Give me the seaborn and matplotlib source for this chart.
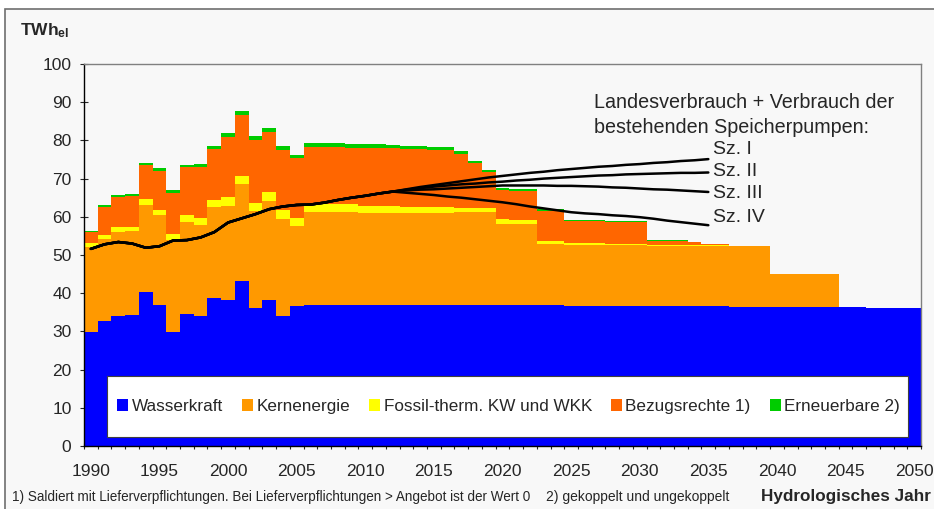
import numpy as np
import pandas as pd
import matplotlib
matplotlib.use('Agg')
import matplotlib.pyplot as plt
from matplotlib.patches import Patch, Rectangle
from matplotlib.ticker import FixedLocator, MultipleLocator
import seaborn as sns

sns.set_style('ticks')
plt.rcParams['font.family'] = ['Liberation Sans', 'DejaVu Sans']
plt.rcParams['mathtext.fontset'] = 'custom'
plt.rcParams['mathtext.bf'] = 'Liberation Sans:bold'
plt.rcParams['mathtext.rm'] = 'Liberation Sans'

# ── data (TWh_el per hydrological year) ─────────────────
years = list(range(1990, 2051))

wasserkraft = [29.9, 32.7, 34.1, 34.3, 40.3, 36.9, 29.9, 34.6, 34.1, 38.7,
               38.3, 43.3, 36.2, 38.3, 34.1, 36.6,
               36.9, 36.9, 36.9, 36.9, 36.9, 36.9, 36.9, 36.9, 36.9, 36.9,
               36.9, 36.9, 36.9, 36.9, 36.9, 36.9, 36.9, 36.9, 36.9,
               36.7, 36.7, 36.7, 36.7, 36.7, 36.7, 36.7, 36.7, 36.7, 36.7, 36.7, 36.7,
               36.4, 36.4, 36.4, 36.4, 36.4, 36.4, 36.4, 36.4, 36.4, 36.4,
               36.1, 36.1, 36.1, 36.1]
kernenergie = [22.3, 21.5, 22.0, 22.0, 22.8, 23.6, 24.0, 24.1, 23.7, 23.9,
               24.6, 25.3, 25.3, 25.8, 25.3, 21.0,
               24.4, 24.4, 24.4, 24.4, 24.2, 24.2, 24.1, 24.1, 24.1, 24.1,
               24.1, 24.3, 24.3, 24.3, 21.2, 21.2, 21.2, 16.0, 16.0,
               15.9, 15.9, 15.9, 15.8, 15.8, 15.8, 15.7, 15.7, 15.7, 15.7, 15.7, 15.7,
               16.0, 16.0, 16.0, 8.6, 8.6, 8.6, 8.6, 8.6, 0, 0,
               0, 0, 0, 0]
fossil = [0.9, 1.0, 1.2, 1.0, 1.6, 1.3, 1.7, 1.8, 1.9, 1.8,
          2.4, 2.1, 2.1, 2.4, 2.4, 2.0,
          2.1, 2.1, 2.1, 2.0, 1.8, 1.8, 1.8, 1.6, 1.6, 1.6,
          1.6, 1.1, 1.1, 1.1, 1.4, 1.1, 1.1, 0.8, 0.8,
          0.5, 0.5, 0.5, 0.5, 0.5, 0.5, 0.3, 0.3, 0.3, 0.2, 0.1, 0.1,
          0, 0, 0, 0, 0, 0, 0, 0, 0, 0,
          0, 0, 0, 0]
bezugsrechte = [2.8, 7.4, 7.9, 8.2, 8.9, 10.3, 10.7, 12.5, 13.4, 13.3,
                15.6, 16.0, 16.5, 15.8, 15.8, 15.7,
                14.8, 14.8, 14.8, 14.8, 15.1, 15.1, 15.1, 15.1, 15.1, 14.8,
                14.8, 14.1, 11.7, 9.3, 7.6, 7.6, 7.6, 7.8, 7.8,
                5.8, 5.8, 5.8, 5.7, 5.7, 5.6, 1.0, 1.0, 1.0, 0.8, 0.4, 0.4,
                0, 0, 0, 0, 0, 0, 0, 0, 0, 0,
                0, 0, 0, 0]
erneuerbare = [0.4, 0.5, 0.5, 0.5, 0.5, 0.7, 0.7, 0.6, 0.7, 0.8,
               1.0, 1.0, 1.0, 1.0, 1.0, 1.0,
               1.0, 1.0, 1.0, 1.0, 1.0, 1.0, 0.9, 0.8, 0.8, 0.8,
               0.8, 0.7, 0.6, 0.6, 0.5, 0.5, 0.5, 0.5, 0.5,
               0.3, 0.3, 0.3, 0.3, 0.3, 0.3, 0.2, 0.2, 0.2, 0.1, 0, 0,
               0, 0, 0, 0, 0, 0, 0, 0, 0, 0,
               0, 0, 0, 0]

# consumption line: common history 1990-2012, then four scenarios 2013-2035
verbrauch = [51.6, 52.8, 53.4, 53.0, 51.9, 52.3, 53.8, 53.9, 54.6, 56.0,
             58.5, 59.6, 60.7, 62.0, 62.7, 63.1, 63.2, 63.7, 64.4, 65.0,
             65.5, 66.1, 66.6]
sz_1 = [67.2, 67.8, 68.3, 68.8, 69.3, 69.8, 70.3, 70.7, 71.1, 71.5, 71.8, 72.2,
        72.5, 72.8, 73.1, 73.3, 73.6, 73.8, 74.1, 74.3, 74.6, 74.8, 75.1]
sz_2 = [67.1, 67.5, 67.9, 68.2, 68.5, 68.7, 69.0, 69.2, 69.5, 69.7, 70.0, 70.2,
        70.4, 70.6, 70.8, 70.9, 71.1, 71.2, 71.3, 71.4, 71.5, 71.5, 71.6]
sz_3 = [66.9, 67.1, 67.2, 67.4, 67.6, 67.8, 68.0, 68.2, 68.2, 68.2, 68.2, 68.1,
        68.1, 68.0, 67.9, 67.7, 67.6, 67.4, 67.2, 67.1, 66.9, 66.7, 66.5]
sz_4 = [66.3, 66.0, 65.7, 65.3, 65.0, 64.6, 64.2, 63.8, 63.3, 62.7, 62.2, 61.7,
        61.2, 60.9, 60.7, 60.4, 60.2, 59.9, 59.5, 59.0, 58.6, 58.2, 57.8]
sz_names = ['Sz. I', 'Sz. II', 'Sz. III', 'Sz. IV']

series = ['Wasserkraft', 'Kernenergie', 'Fossil-therm. KW und WKK',
          'Bezugsrechte 1)', 'Erneuerbare 2)']
colors = ['#0000ff', '#ff9900', '#ffff00', '#ff6600', '#00cc00']

df = pd.DataFrame({'Jahr': years,
                   series[0]: wasserkraft, series[1]: kernenergie,
                   series[2]: fossil, series[3]: bezugsrechte,
                   series[4]: erneuerbare})
cum = df[series].cumsum(axis=1)

# ── figure ──────────────────────────────────────────────
W_PX, H_PX = 934, 509
fig = plt.figure(figsize=(W_PX / 100, H_PX / 100), dpi=100, facecolor='white')
fig.patches.append(Rectangle((5 / W_PX, -0.05), 1.1, 1 - 9 / H_PX + 0.05,
                             transform=fig.transFigure, facecolor='#f8f8f8',
                             edgecolor='#6e6e6e', linewidth=1.2, zorder=-5))
ax = fig.add_axes([84 / W_PX, 1 - 446 / H_PX, 837 / W_PX, 382 / H_PX])
ax.set_facecolor('#f8f8f8')

# stacked bars: draw cumulative totals from the top layer down
for name, col in reversed(list(zip(series, colors))):
    sns.barplot(x=df['Jahr'], y=cum[name], color=col, saturation=1,
                width=1.0, linewidth=0, errorbar=None, ax=ax, zorder=2)

# consumption lines
for sz in [sz_1, sz_2, sz_3, sz_4]:
    vals = verbrauch + sz
    sns.lineplot(x=np.arange(len(vals)), y=vals, color='black',
                 linewidth=1.8, ax=ax, zorder=4)

ax.set_xlim(-0.5, len(years) - 0.5)
ax.set_ylim(0, 100)
ax.set_xlabel('')
ax.set_ylabel('')

ax.xaxis.set_major_locator(FixedLocator(range(0, len(years), 5)))
ax.set_xticklabels([str(y) for y in years[::5]])
ax.xaxis.set_minor_locator(FixedLocator(np.arange(-0.5, len(years), 1)))
ax.tick_params(axis='x', which='major', length=0, pad=13, labelsize=12.5)
ax.tick_params(axis='x', which='minor', length=5, direction='inout', width=0.8)
ax.yaxis.set_major_locator(MultipleLocator(10))
ax.tick_params(axis='y', length=6, direction='inout', width=0.8, pad=6,
               labelsize=12.5)

for side in ['left', 'bottom']:
    ax.spines[side].set_color('black')
    ax.spines[side].set_linewidth(1)
for side in ['top', 'right']:
    ax.spines[side].set_visible(True)
    ax.spines[side].set_color('#808080')
    ax.spines[side].set_linewidth(1)
for sp in ax.spines.values():
    sp.set_zorder(5)

# legend: white box drawn separately so the entries can span its width
ax.add_patch(Rectangle((23 / 837, 9 / 382), 801 / 837, 61 / 382,
                       transform=ax.transAxes, facecolor='white',
                       edgecolor='#404040', linewidth=0.8, zorder=6))
handles = [Patch(facecolor=c, edgecolor='none', label=s)
           for s, c in zip(series, colors)]
leg = ax.legend(handles=handles, loc='center', ncol=5, mode='expand',
                bbox_to_anchor=(33 / 837, 9 / 382, 783 / 837, 61 / 382),
                fontsize=12.3, frameon=False, borderpad=0,
                handlelength=0.65, handleheight=0.65, handletextpad=0.2,
                columnspacing=1.0, borderaxespad=0)
leg.set_zorder(7)

# annotations
fig.text(594 / W_PX, 1 - 103 / H_PX, 'Landesverbrauch + Verbrauch der',
         fontsize=14.2, va='center', ha='left')
fig.text(594 / W_PX, 1 - 127 / H_PX, 'bestehenden Speicherpumpen:',
         fontsize=14.2, va='center', ha='left')
for name, ypx in zip(sz_names, [150, 172, 194, 218]):
    fig.text(713 / W_PX, 1 - ypx / H_PX, name, fontsize=14,
             va='center', ha='left')

fig.text(20 / W_PX, 1 - 31 / H_PX, r'$\mathbf{TWh_{el}}$', fontsize=12.5,
         va='center', ha='left')
fig.text(12 / W_PX, 1 - 497 / H_PX,
         '1) Saldiert mit Lieferverpflichtungen. Bei Lieferverpflichtungen '
         '> Angebot ist der Wert 0', fontsize=9.75, va='center', ha='left')
fig.text(546 / W_PX, 1 - 497 / H_PX, '2) gekoppelt und ungekoppelt',
         fontsize=10, va='center', ha='left')
fig.text(931 / W_PX, 1 - 497 / H_PX, 'Hydrologisches Jahr', fontsize=12.3,
         fontweight='bold', va='center', ha='right')

plt.savefig('out.png', dpi=100, facecolor=fig.get_facecolor())
